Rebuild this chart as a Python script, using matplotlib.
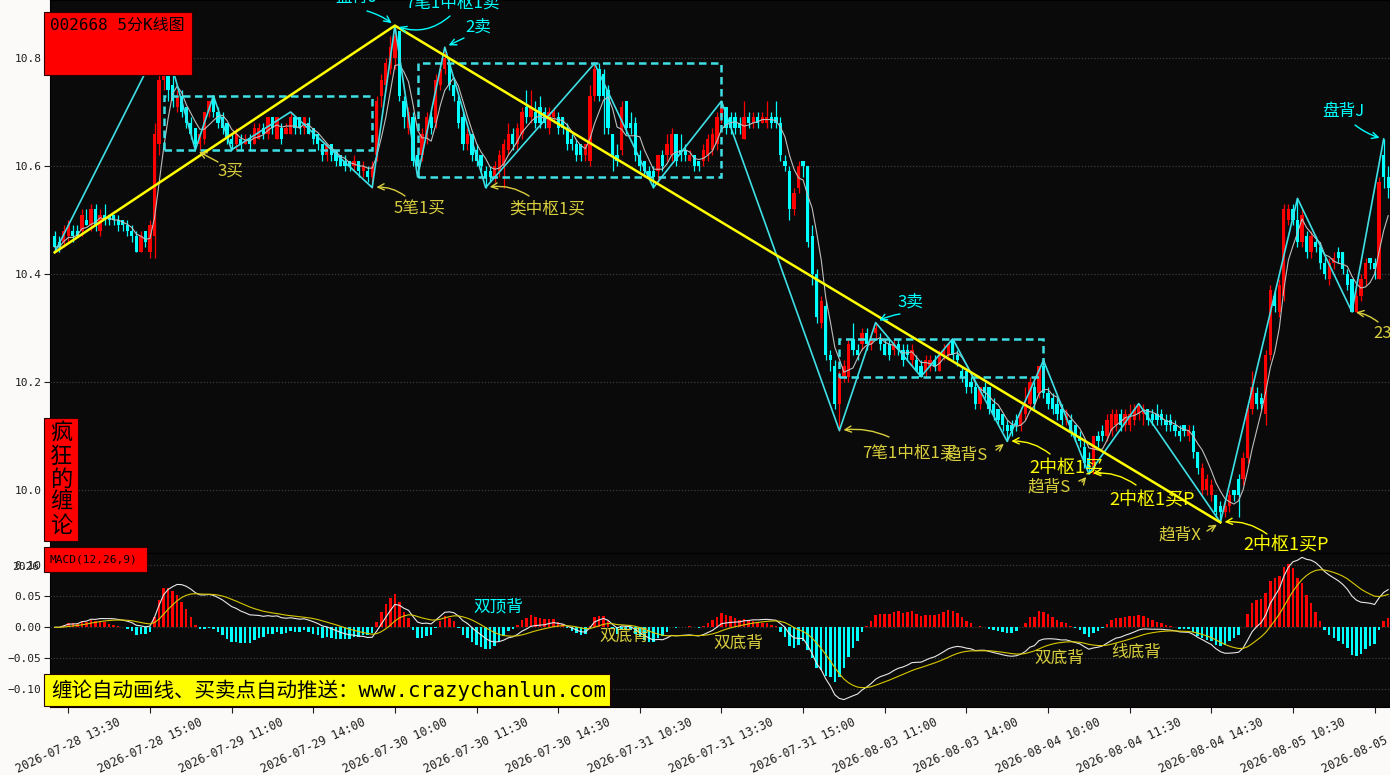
import matplotlib
matplotlib.use('Agg')
import matplotlib.pyplot as plt
from matplotlib.patches import Rectangle
import numpy as np
import pandas as pd

# 5-minute bars, 002668, 2026-07-28 13:15 .. 2026-08-05 13:45
opens = [
    10.47, 10.46, 10.46, 10.47, 10.48, 10.48, 10.48, 10.50, 10.49, 10.52,
    10.48, 10.51, 10.51, 10.51, 10.50, 10.50, 10.49, 10.48, 10.47, 10.44,
    10.48, 10.44, 10.47, 10.64, 10.76, 10.79, 10.75, 10.71, 10.73, 10.71,
    10.68, 10.67, 10.64, 10.65, 10.70, 10.73, 10.70, 10.69, 10.68, 10.65,
    10.64, 10.65, 10.64, 10.65, 10.64, 10.65, 10.67, 10.66, 10.69, 10.65,
    10.67, 10.66, 10.66, 10.69, 10.69, 10.67, 10.68, 10.67, 10.66, 10.64,
    10.62, 10.64, 10.63, 10.62, 10.61, 10.61, 10.60, 10.61, 10.59, 10.59,
    10.58, 10.62, 10.73, 10.75, 10.78, 10.80, 10.85, 10.72, 10.67, 10.69,
    10.62, 10.62, 10.65, 10.69, 10.68, 10.75, 10.78, 10.79, 10.75, 10.72,
    10.69, 10.64, 10.66, 10.63, 10.62, 10.59, 10.59, 10.58, 10.59, 10.60,
    10.63, 10.66, 10.64, 10.66, 10.71, 10.69, 10.70, 10.71, 10.70, 10.67,
    10.69, 10.69, 10.69, 10.67, 10.65, 10.64, 10.64, 10.62, 10.61, 10.73,
    10.78, 10.77, 10.74, 10.66, 10.62, 10.63, 10.72, 10.68, 10.68, 10.62,
    10.61, 10.59, 10.59, 10.59, 10.62, 10.62, 10.62, 10.66, 10.63, 10.63,
    10.61, 10.62, 10.61, 10.61, 10.62, 10.63, 10.64, 10.69, 10.71, 10.69,
    10.69, 10.68, 10.65, 10.69, 10.68, 10.69, 10.68, 10.68, 10.69, 10.69,
    10.68, 10.61, 10.59, 10.52, 10.56, 10.61, 10.60, 10.47, 10.40, 10.31,
    10.34, 10.25, 10.23, 10.16, 10.21, 10.21, 10.28, 10.26, 10.27, 10.29,
    10.27, 10.29, 10.28, 10.27, 10.27, 10.26, 10.27, 10.26, 10.26, 10.24,
    10.24, 10.23, 10.22, 10.23, 10.24, 10.22, 10.25, 10.25, 10.28, 10.25,
    10.22, 10.22, 10.20, 10.19, 10.16, 10.19, 10.19, 10.16, 10.15, 10.14,
    10.12, 10.12, 10.13, 10.12, 10.14, 10.16, 10.19, 10.18, 10.23, 10.18,
    10.17, 10.16, 10.15, 10.13, 10.13, 10.12, 10.10, 10.08, 10.06, 10.04,
    10.10, 10.11, 10.10, 10.11, 10.12, 10.14, 10.12, 10.12, 10.13, 10.14,
    10.14, 10.15, 10.14, 10.14, 10.14, 10.13, 10.13, 10.12, 10.11, 10.12,
    10.10, 10.11, 10.07, 10.00, 10.00, 9.99, 9.99, 9.97, 9.96, 9.97,
    10.00, 10.02, 10.02, 10.06, 10.15, 10.18, 10.17, 10.14, 10.25, 10.36,
    10.33, 10.36, 10.50, 10.52, 10.50, 10.46, 10.47, 10.44, 10.46, 10.45,
    10.42, 10.39, 10.42, 10.44, 10.44, 10.40, 10.39, 10.33, 10.36, 10.39,
    10.43, 10.42, 10.39, 10.62, 10.58]

closes = [
    10.45, 10.45, 10.48, 10.49, 10.47, 10.47, 10.51, 10.49, 10.52, 10.49,
    10.51, 10.50, 10.50, 10.50, 10.49, 10.49, 10.48, 10.47, 10.44, 10.47,
    10.46, 10.49, 10.66, 10.76, 10.79, 10.74, 10.72, 10.73, 10.70, 10.68,
    10.66, 10.64, 10.66, 10.70, 10.72, 10.70, 10.68, 10.67, 10.65, 10.64,
    10.66, 10.64, 10.65, 10.64, 10.67, 10.67, 10.66, 10.69, 10.67, 10.69,
    10.65, 10.67, 10.69, 10.67, 10.67, 10.69, 10.66, 10.65, 10.64, 10.62,
    10.64, 10.62, 10.61, 10.60, 10.60, 10.60, 10.61, 10.59, 10.60, 10.58,
    10.60, 10.72, 10.76, 10.79, 10.82, 10.84, 10.73, 10.69, 10.70, 10.61,
    10.60, 10.66, 10.69, 10.67, 10.76, 10.78, 10.80, 10.75, 10.73, 10.68,
    10.64, 10.66, 10.62, 10.61, 10.60, 10.58, 10.58, 10.60, 10.62, 10.64,
    10.66, 10.64, 10.67, 10.70, 10.69, 10.71, 10.68, 10.68, 10.68, 10.70,
    10.70, 10.67, 10.67, 10.64, 10.64, 10.62, 10.62, 10.64, 10.73, 10.78,
    10.73, 10.73, 10.67, 10.62, 10.61, 10.71, 10.67, 10.67, 10.62, 10.60,
    10.59, 10.58, 10.58, 10.62, 10.60, 10.64, 10.66, 10.61, 10.62, 10.62,
    10.62, 10.60, 10.60, 10.63, 10.65, 10.66, 10.69, 10.71, 10.67, 10.67,
    10.67, 10.67, 10.69, 10.68, 10.69, 10.68, 10.69, 10.69, 10.68, 10.68,
    10.62, 10.60, 10.52, 10.55, 10.60, 10.60, 10.46, 10.40, 10.32, 10.35,
    10.25, 10.24, 10.16, 10.21, 10.23, 10.27, 10.26, 10.25, 10.29, 10.27,
    10.28, 10.30, 10.27, 10.25, 10.25, 10.27, 10.26, 10.24, 10.25, 10.26,
    10.22, 10.21, 10.24, 10.24, 10.23, 10.25, 10.26, 10.27, 10.25, 10.24,
    10.21, 10.19, 10.19, 10.16, 10.19, 10.18, 10.15, 10.14, 10.13, 10.12,
    10.11, 10.11, 10.12, 10.14, 10.16, 10.20, 10.16, 10.23, 10.18, 10.16,
    10.15, 10.14, 10.13, 10.14, 10.11, 10.10, 10.09, 10.05, 10.04, 10.10,
    10.09, 10.10, 10.13, 10.14, 10.14, 10.12, 10.14, 10.14, 10.15, 10.16,
    10.15, 10.13, 10.13, 10.13, 10.13, 10.12, 10.12, 10.11, 10.10, 10.11,
    10.11, 10.07, 10.04, 10.04, 10.02, 10.01, 9.96, 9.96, 9.97, 9.99,
    9.99, 9.99, 10.06, 10.15, 10.19, 10.16, 10.16, 10.25, 10.37, 10.34,
    10.38, 10.52, 10.52, 10.50, 10.46, 10.51, 10.44, 10.47, 10.45, 10.42,
    10.40, 10.42, 10.43, 10.43, 10.41, 10.38, 10.33, 10.36, 10.39, 10.42,
    10.42, 10.41, 10.57, 10.58, 10.56]

highs = [
    10.48, 10.47, 10.49, 10.50, 10.49, 10.49, 10.52, 10.52, 10.53, 10.53,
    10.52, 10.53, 10.51, 10.51, 10.51, 10.50, 10.50, 10.49, 10.48, 10.48,
    10.48, 10.50, 10.68, 10.78, 10.84, 10.80, 10.77, 10.74, 10.74, 10.71,
    10.69, 10.67, 10.66, 10.70, 10.72, 10.73, 10.71, 10.70, 10.68, 10.66,
    10.67, 10.66, 10.66, 10.66, 10.68, 10.68, 10.68, 10.69, 10.69, 10.69,
    10.68, 10.68, 10.70, 10.69, 10.69, 10.69, 10.69, 10.67, 10.66, 10.64,
    10.64, 10.64, 10.63, 10.62, 10.62, 10.61, 10.62, 10.61, 10.61, 10.60,
    10.61, 10.73, 10.77, 10.80, 10.84, 10.86, 10.85, 10.73, 10.71, 10.70,
    10.63, 10.67, 10.70, 10.70, 10.77, 10.79, 10.82, 10.80, 10.76, 10.73,
    10.70, 10.67, 10.66, 10.64, 10.62, 10.60, 10.60, 10.61, 10.63, 10.65,
    10.68, 10.67, 10.68, 10.71, 10.74, 10.74, 10.72, 10.73, 10.71, 10.71,
    10.71, 10.70, 10.69, 10.68, 10.66, 10.65, 10.64, 10.64, 10.75, 10.79,
    10.79, 10.78, 10.75, 10.66, 10.64, 10.72, 10.72, 10.70, 10.69, 10.63,
    10.61, 10.60, 10.60, 10.62, 10.63, 10.66, 10.67, 10.66, 10.66, 10.64,
    10.63, 10.62, 10.61, 10.64, 10.66, 10.67, 10.70, 10.72, 10.71, 10.70,
    10.70, 10.69, 10.72, 10.70, 10.70, 10.70, 10.70, 10.72, 10.70, 10.72,
    10.69, 10.62, 10.60, 10.56, 10.61, 10.61, 10.60, 10.49, 10.41, 10.36,
    10.35, 10.26, 10.24, 10.22, 10.24, 10.28, 10.31, 10.27, 10.30, 10.30,
    10.29, 10.31, 10.29, 10.28, 10.28, 10.28, 10.28, 10.27, 10.27, 10.27,
    10.25, 10.24, 10.25, 10.25, 10.25, 10.26, 10.27, 10.27, 10.28, 10.26,
    10.23, 10.22, 10.21, 10.20, 10.19, 10.20, 10.19, 10.17, 10.15, 10.14,
    10.13, 10.13, 10.14, 10.15, 10.19, 10.21, 10.20, 10.23, 10.24, 10.19,
    10.18, 10.17, 10.16, 10.15, 10.14, 10.12, 10.11, 10.09, 10.07, 10.10,
    10.11, 10.12, 10.14, 10.15, 10.15, 10.15, 10.15, 10.16, 10.16, 10.16,
    10.16, 10.15, 10.15, 10.16, 10.15, 10.14, 10.14, 10.13, 10.12, 10.12,
    10.12, 10.12, 10.07, 10.05, 10.03, 10.02, 9.99, 9.98, 9.98, 10.00,
    10.00, 10.03, 10.07, 10.16, 10.22, 10.19, 10.18, 10.26, 10.38, 10.37,
    10.39, 10.53, 10.53, 10.53, 10.54, 10.52, 10.48, 10.48, 10.47, 10.46,
    10.43, 10.43, 10.44, 10.45, 10.44, 10.41, 10.39, 10.37, 10.40, 10.43,
    10.43, 10.43, 10.58, 10.65, 10.60]

lows = [
    10.44, 10.44, 10.45, 10.46, 10.46, 10.47, 10.47, 10.49, 10.48, 10.48,
    10.47, 10.49, 10.49, 10.49, 10.48, 10.48, 10.47, 10.46, 10.44, 10.44,
    10.45, 10.43, 10.43, 10.62, 10.74, 10.72, 10.71, 10.70, 10.69, 10.67,
    10.65, 10.63, 10.63, 10.64, 10.69, 10.69, 10.67, 10.66, 10.64, 10.63,
    10.63, 10.63, 10.64, 10.63, 10.64, 10.65, 10.65, 10.65, 10.66, 10.65,
    10.64, 10.66, 10.66, 10.66, 10.66, 10.66, 10.66, 10.64, 10.63, 10.61,
    10.61, 10.61, 10.60, 10.60, 10.59, 10.59, 10.59, 10.58, 10.58, 10.57,
    10.56, 10.61, 10.71, 10.74, 10.77, 10.78, 10.72, 10.67, 10.66, 10.60,
    10.58, 10.61, 10.64, 10.66, 10.67, 10.74, 10.77, 10.74, 10.72, 10.67,
    10.63, 10.63, 10.61, 10.60, 10.59, 10.56, 10.57, 10.57, 10.58, 10.56,
    10.62, 10.63, 10.63, 10.65, 10.68, 10.68, 10.67, 10.67, 10.67, 10.66,
    10.68, 10.66, 10.66, 10.63, 10.63, 10.61, 10.61, 10.61, 10.60, 10.72,
    10.72, 10.66, 10.66, 10.59, 10.60, 10.62, 10.66, 10.66, 10.61, 10.59,
    10.58, 10.58, 10.56, 10.57, 10.59, 10.61, 10.61, 10.60, 10.61, 10.61,
    10.61, 10.59, 10.59, 10.60, 10.61, 10.62, 10.63, 10.68, 10.66, 10.66,
    10.66, 10.66, 10.65, 10.67, 10.67, 10.67, 10.68, 10.67, 10.67, 10.67,
    10.61, 10.59, 10.50, 10.51, 10.55, 10.58, 10.45, 10.38, 10.31, 10.30,
    10.24, 10.22, 10.15, 10.11, 10.20, 10.20, 10.25, 10.24, 10.26, 10.26,
    10.26, 10.28, 10.26, 10.25, 10.24, 10.25, 10.25, 10.23, 10.24, 10.23,
    10.22, 10.21, 10.21, 10.22, 10.22, 10.22, 10.24, 10.24, 10.24, 10.23,
    10.20, 10.18, 10.18, 10.15, 10.15, 10.17, 10.14, 10.13, 10.12, 10.11,
    10.09, 10.10, 10.11, 10.11, 10.13, 10.15, 10.15, 10.17, 10.17, 10.15,
    10.14, 10.13, 10.12, 10.12, 10.10, 10.09, 10.08, 10.04, 10.03, 10.03,
    10.08, 10.09, 10.09, 10.10, 10.11, 10.11, 10.11, 10.11, 10.12, 10.13,
    10.12, 10.12, 10.12, 10.12, 10.12, 10.11, 10.11, 10.10, 10.09, 10.10,
    10.09, 10.06, 10.03, 9.99, 9.99, 9.98, 9.95, 9.94, 9.95, 9.96,
    9.98, 9.95, 10.01, 10.05, 10.14, 10.15, 10.15, 10.12, 10.24, 10.33,
    10.32, 10.35, 10.49, 10.49, 10.45, 10.45, 10.43, 10.43, 10.44, 10.41,
    10.39, 10.38, 10.41, 10.42, 10.40, 10.37, 10.33, 10.33, 10.35, 10.38,
    10.41, 10.39, 10.39, 10.56, 10.54]

# pen (bi) turning points: bar index and whether it is a low (L) or high (H)
bi_idx = [0, 24, 31, 35, 39, 52, 70, 75, 80, 86, 95, 119, 132, 147, 173,
          181, 191, 198, 210, 218, 228, 239, 257, 274, 286, 293]
bi_kind = 'LHLHLHLHLHLHLHLHLHLHLHLHLH'
# segment (xianduan) turning points
seg_idx = [0, 75, 257]
seg_kind = 'LHL'
# pivot boxes (zhongshu)
zs_start = [24, 80, 173]
zs_end = [70, 147, 218]
zs_low = [10.63, 10.58, 10.21]
zs_high = [10.73, 10.79, 10.28]

tick_pos = [3, 21, 39, 57, 75, 93, 111, 129, 147, 165, 183, 201, 219, 237, 255, 273, 291]
tick_labels = ['2026-07-28 13:30', '2026-07-28 15:00', '2026-07-29 11:00', '2026-07-29 14:00',
               '2026-07-30 10:00', '2026-07-30 11:30', '2026-07-30 14:30', '2026-07-31 10:30',
               '2026-07-31 13:30', '2026-07-31 15:00', '2026-08-03 11:00', '2026-08-03 14:00',
               '2026-08-04 10:00', '2026-08-04 11:30', '2026-08-04 14:30', '2026-08-05 10:30',
               '2026-08-05 13:30']

RED = '#ff0000'
CYAN = '#00ffff'
BI = '#3ee0e6'
OLIVE = '#d9cf3e'
YEL = '#ffff00'
CJK = ['Noto Sans CJK SC']

plt.rcParams['font.family'] = ['DejaVu Sans Mono', 'Noto Sans CJK SC']

W, H = 1390, 775


def fx(x):
    return x / W


def fy(y):
    return 1 - y / H


fig = plt.figure(figsize=(13.9, 7.75), dpi=100, facecolor='#fcfaf8')
ax = fig.add_axes([fx(50), fy(553), 1 - fx(50), 553 / H])
ax2 = fig.add_axes([fx(50), fy(707), 1 - fx(50), (707 - 553) / H], sharex=ax)
for a in (ax, ax2):
    a.set_facecolor('#0a0a0a')
    for sp in a.spines.values():
        sp.set_color('#000000')

o = np.array(opens)
c = np.array(closes)
hi = np.array(highs)
lo = np.array(lows)
x = np.arange(len(c))
col = np.where(c >= o, RED, CYAN)

# candles
ax.vlines(x, lo, hi, colors=col, lw=0.9, zorder=2)
ax.bar(x, np.maximum(np.abs(c - o), 0.003), bottom=np.minimum(o, c), width=0.72,
       color=col, lw=0, zorder=3)

ma5 = pd.Series(c).rolling(5, min_periods=1).mean()
ax.plot(x, ma5, color='#bdbdbd', lw=0.8, zorder=4)

bi_px = [lo[i] if k == 'L' else hi[i] for i, k in zip(bi_idx, bi_kind)]
ax.plot(bi_idx, bi_px, color=BI, lw=1.2, zorder=5)
seg_px = [lo[i] if k == 'L' else hi[i] for i, k in zip(seg_idx, seg_kind)]
ax.plot(seg_idx, seg_px, color='#ffff00', lw=1.8, zorder=6)
for s, e, zl, zh in zip(zs_start, zs_end, zs_low, zs_high):
    ax.add_patch(Rectangle((s, zl), e - s, zh - zl, fill=False, ec=BI, lw=1.8,
                           ls=(0, (3, 1.8)), zorder=5))

ax.set_xlim(-1.04, 294.4)
ax.set_ylim(9.8833, 10.9074)
ax.set_yticks([10.0, 10.2, 10.4, 10.6, 10.8])
ax.set_yticklabels(['10.0', '10.2', '10.4', '10.6', '10.8'])
ax.grid(axis='y', color='#3c3c3c', ls=(0, (1, 1.5)), lw=0.9)
ax.grid(axis='x', visible=False)
ax.tick_params(axis='y', labelsize=8, labelcolor='#1e1e1e', length=4, color='#1e1e1e', pad=2)
ax.set_xticks(tick_pos)
ax.tick_params(axis='x', labelbottom=False, length=0)

# MACD(12,26,9)
cs = pd.Series(c)
dif = cs.ewm(span=12, adjust=False).mean() - cs.ewm(span=26, adjust=False).mean()
dea = dif.ewm(span=9, adjust=False).mean()
macd = 2 * (dif - dea)
ax2.bar(x, macd, width=0.55, color=np.where(macd >= 0, RED, CYAN), lw=0, zorder=2)
ax2.plot(x, dif, color='#e6e6e6', lw=0.8, zorder=3)
ax2.plot(x, dea, color='#d8c800', lw=0.8, zorder=3)
ax2.set_ylim(-0.1285, 0.1198)
ax2.set_yticks([-0.1, -0.05, 0.0, 0.05, 0.1])
ax2.set_yticklabels(['\u22120.10', '\u22120.05', '0.00', '0.05', '0.10'])
ax2.grid(axis='y', color='#3c3c3c', ls=(0, (1, 1.5)), lw=0.9)
ax2.grid(axis='x', visible=False)
ax2.tick_params(axis='y', labelsize=8, labelcolor='#1e1e1e', length=4, color='#1e1e1e', pad=2)
ax2.set_xticks(tick_pos)
ax2.set_xticklabels(tick_labels, rotation=25, ha='center')
ax2.tick_params(axis='x', labelsize=8.5, labelcolor='#1e1e1e', length=4, color='#1e1e1e', pad=2)
ax2.set_xlim(-1.04, 294.4)


def note(px, py, s, color, size=12, ha='center'):
    fig.text(fx(px), fy(py), s, color=color, fontsize=size, ha=ha, va='center', family=CJK)


def arrow(tip, tail, color, rad=0.0, data=True):
    ax.annotate('', xy=tip if data else (fx(tip[0]), fy(tip[1])),
                xycoords='data' if data else 'figure fraction',
                xytext=(fx(tail[0]), fy(tail[1])), textcoords='figure fraction',
                arrowprops=dict(arrowstyle='->,head_length=0.45,head_width=0.22', color=color,
                                lw=1.0, shrinkA=0, shrinkB=3 if data else 0,
                                connectionstyle='arc3,rad=%s' % rad),
                annotation_clip=False, zorder=8)


def bi_pt(k):
    return (bi_idx[k], bi_px[k])


# main chart signals
note(356, -3, '盘背J', CYAN)
arrow(bi_pt(7), (367, 11), CYAN, -0.1)
note(452, 3, '7笔1中枢1卖', CYAN)
arrow(bi_pt(7), (450, 16), CYAN, -0.3)
note(478, 27, '2卖', CYAN)
arrow(bi_pt(9), (464, 38), CYAN)
note(230, 171, '3买', OLIVE)
arrow(bi_pt(2), (218, 162), OLIVE)
note(419, 209, '5笔1买', OLIVE)
arrow(bi_pt(6), (405, 196), OLIVE, 0.2)
note(547, 209, '类中枢1买', OLIVE)
arrow(bi_pt(10), (529, 196), OLIVE, 0.2)
note(910, 302, '3卖', CYAN)
arrow(bi_pt(15), (900, 314), CYAN, 0.1)
note(909, 453, '7笔1中枢1买', OLIVE)
arrow(bi_pt(14), (889, 437), OLIVE, 0.15)
note(966, 455, '趋背S', OLIVE)
arrow(bi_pt(18), (996, 450), OLIVE)
note(1066, 468, '2中枢1买', YEL, 13)
arrow(bi_pt(18), (1050, 454), YEL, 0.2)
note(1049, 487, '趋背S', OLIVE)
arrow(bi_pt(20), (1082, 482), OLIVE)
note(1152, 500, '2中枢1买P', YEL, 13)
arrow(bi_pt(20), (1136, 485), YEL, 0.2)
note(1180, 535, '趋背X', OLIVE)
arrow(bi_pt(22), (1207, 531), OLIVE)
note(1286, 545, '2中枢1买P', YEL, 13)
arrow(bi_pt(22), (1267, 534), YEL, 0.2)
note(1373, 333, '23买', OLIVE, ha='left')
arrow(bi_pt(24), (1378, 322), OLIVE, 0.15)
note(1343, 111, '盘背J', CYAN)
arrow(bi_pt(25), (1355, 125), CYAN, 0.1)

# MACD signals
note(498, 607, '双顶背', CYAN)
arrow((463, 619), (468, 613), OLIVE, data=False)
note(624, 636, '双底背', OLIVE)
arrow((590, 626), (598, 632), OLIVE, data=False)
note(738, 643, '双底背', OLIVE)
arrow((703, 635), (712, 638), OLIVE, data=False)
note(1059, 658, '双底背', OLIVE)
arrow((1026, 650), (1034, 653), OLIVE, data=False)
note(1136, 652, '线底背', OLIVE)
arrow((1103, 644), (1112, 647), OLIVE, data=False)


def box(x0, y0, x1, y1, color):
    fig.add_artist(Rectangle((fx(x0), fy(y1)), (x1 - x0) / W, (y1 - y0) / H,
                             transform=fig.transFigure, fc=color, ec='#2a0000', lw=0.8))


box(44, 12, 192, 75, RED)
fig.text(fx(50), fy(25), '002668 5分K线图', fontsize=11.5, color='black', va='center', ha='left')
box(44, 418, 78, 541, RED)
for k, ch in enumerate('疯狂的缠论'):
    fig.text(fx(61), fy(433 + 23 * k), ch, fontsize=16, color='black', ha='center',
             va='center', family=CJK)
box(44, 547, 147, 572, RED)
fig.text(fx(49), fy(560), 'MACD(12,26,9)', fontsize=8, color='black', va='center', ha='left')
box(44, 674, 610, 706, YEL)
fig.text(fx(51), fy(690), '缠论自动画线、买卖点自动推送：www.crazychanlun.com', fontsize=14.8,
         color='black', va='center', ha='left')
fig.text(fx(12), fy(567), '2026', fontsize=8, color='#1e1e1e', va='center', ha='left')

fig.savefig('out.png', dpi=100, facecolor=fig.get_facecolor())
